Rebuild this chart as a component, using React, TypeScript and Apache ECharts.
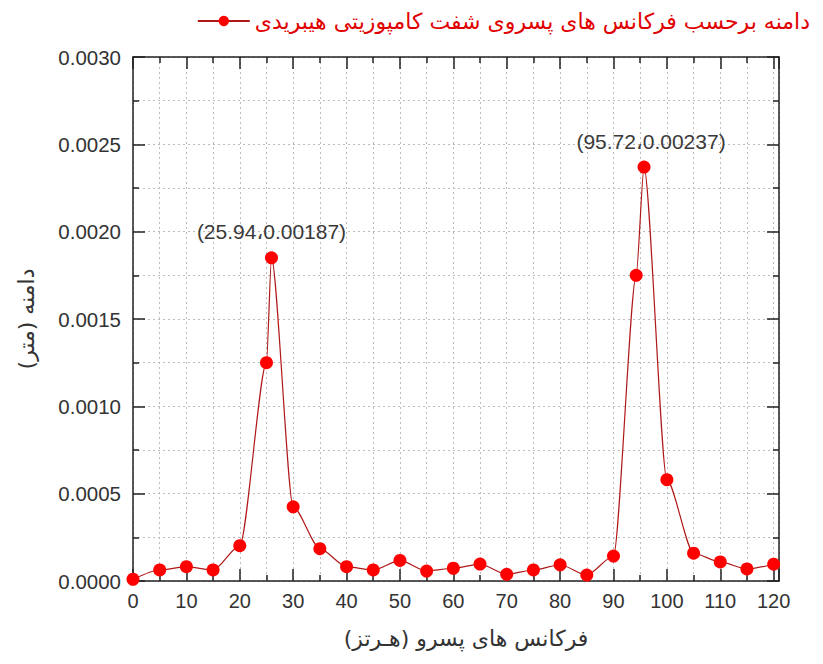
import React, { useEffect, useRef } from "react";
import * as echarts from "echarts";

const seriesName = "دامنه برحسب فرکانس های پسروی شفت کامپوزیتی هیبریدی";
const xAxisName = "فرکانس های پسرو (هـرتز)";
const yAxisName = "دامنه (متر)";

const frequencies = [0, 5, 10, 15, 20, 25, 25.94, 30, 35, 40, 45, 50, 55, 60, 65, 70, 75, 80, 85, 90, 94.25, 95.72, 100, 105, 110, 115, 120];
const amplitudes = [0.00001, 0.000063, 0.000082, 0.000063, 0.000202, 0.00125, 0.00185, 0.000425, 0.000185, 0.000082, 0.000063, 0.000118, 0.000057, 0.000073, 0.000097, 0.000038, 0.000063, 0.000093, 0.000034, 0.000143, 0.00175, 0.00237, 0.00058, 0.000159, 0.000109, 0.000069, 0.000096];

const annotatedIndices = [6, 21];
const annotationTexts = ["(25.94،0.00187)", "(95.72،0.00237)"];
const annotationOffsets = [[0, 0], [7, 0]];

const X_MIN = 0;
const X_MAX = 121;
const X_INTERVAL = 10;
const Y_MIN = 0;
const Y_MAX = 0.003;
const Y_INTERVAL = 0.0005;

export default function App() {
  const ref = useRef<HTMLDivElement>(null);

  useEffect(() => {
    if (!ref.current) return;
    const chart = echarts.init(ref.current, null, { renderer: "svg" });

    const data = frequencies.map((x, i) => {
      const k = annotatedIndices.indexOf(i);
      if (k >= 0) {
        return {
          value: [x, amplitudes[i]],
          label: {
            show: true,
            position: "top",
            distance: 9,
            offset: annotationOffsets[k],
            formatter: annotationTexts[k],
            fontSize: 21,
            color: "#3a3a3a",
            fontFamily: "Liberation Sans, DejaVu Sans, sans-serif",
          },
        };
      }
      return [x, amplitudes[i]];
    });

    const axisLineStyle = { color: "#222", width: 1.5 };
    const dotted = { color: "#bdbdbd", type: [2, 3] as any, width: 1 };

    const baseX = {
      type: "value",
      min: X_MIN,
      max: X_MAX,
      interval: X_INTERVAL,
      axisLine: { show: true, onZero: false, lineStyle: axisLineStyle },
      axisTick: { show: true, inside: true, length: 12, lineStyle: { color: "#222", width: 1.5 } },
      minorTick: { show: true, splitNumber: 2, length: 6, lineStyle: { color: "#222", width: 1.5 } },
    };
    const baseY = {
      type: "value",
      min: Y_MIN,
      max: Y_MAX,
      interval: Y_INTERVAL,
      axisLine: { show: true, onZero: false, lineStyle: axisLineStyle },
      axisTick: { show: true, inside: true, length: 12, lineStyle: { color: "#222", width: 1.5 } },
      minorTick: { show: true, splitNumber: 2, length: 6, lineStyle: { color: "#222", width: 1.5 } },
    };

    chart.setOption({
      animation: false,
      backgroundColor: "#ffffff",
      grid: { left: 133, right: 44, top: 57, bottom: 83, containLabel: false },
      legend: {
        show: true,
        right: 8,
        top: 5,
        itemWidth: 52,
        itemHeight: 13,
        itemGap: 6,
        textStyle: { color: "#e00000", fontSize: 22, fontFamily: "DejaVu Sans, sans-serif" },
        data: [seriesName],
      },
      xAxis: [
        {
          ...baseX,
          position: "bottom",
          name: xAxisName,
          nameLocation: "middle",
          nameGap: 46,
          nameTextStyle: { fontSize: 22, color: "#333", fontFamily: "DejaVu Sans, sans-serif", padding: [0, 0, 0, 20] },
          axisLabel: {
            show: true,
            fontSize: 20,
            color: "#333",
            margin: 10,
            fontFamily: "Liberation Sans, Arial, sans-serif",
            showMaxLabel: false,
          },
          splitLine: { show: true, lineStyle: dotted },
          minorSplitLine: { show: true, lineStyle: dotted },
        },
        {
          ...baseX,
          position: "top",
          axisLabel: { show: false },
          splitLine: { show: false },
        },
      ],
      yAxis: [
        {
          ...baseY,
          position: "left",
          name: yAxisName,
          nameLocation: "middle",
          nameGap: 96,
          nameRotate: 90,
          nameTextStyle: { fontSize: 22, color: "#333", fontFamily: "DejaVu Sans, sans-serif", padding: [0, 0, 0, 0] },
          axisLabel: {
            show: true,
            fontSize: 20.5,
            color: "#333",
            margin: 12,
            fontFamily: "Liberation Sans, Arial, sans-serif",
            formatter: (v: number) => v.toFixed(4),
          },
          splitLine: { show: true, lineStyle: dotted },
          minorSplitLine: { show: true, lineStyle: dotted },
        },
        {
          ...baseY,
          position: "right",
          axisLabel: { show: false },
          splitLine: { show: false },
        },
      ],
      series: [
        {
          name: seriesName,
          type: "line",
          xAxisIndex: 0,
          yAxisIndex: 0,
          data,
          smooth: 0.25,
          smoothMonotone: "x",
          symbol: "circle",
          symbolSize: 13,
          itemStyle: { color: "#ff0000" },
          lineStyle: { color: "#b01818", width: 1.2 },
          z: 5,
        },
      ],
    });

    return () => chart.dispose();
  }, []);

  return <div ref={ref} style={{ position: "fixed", left: 0, top: 0, width: 823, height: 664 }} />;
}
